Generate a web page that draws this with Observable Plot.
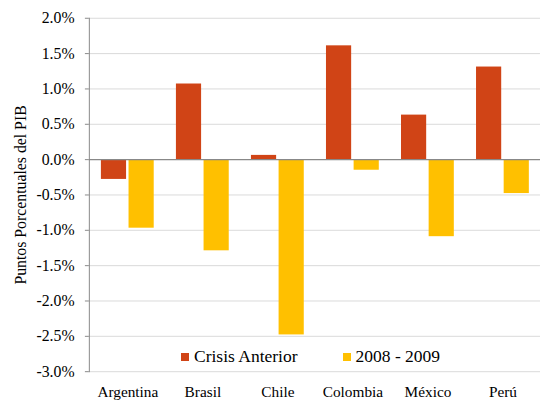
<!DOCTYPE html>
<html>
<head>
<meta charset="utf-8">
<script src="https://cdn.jsdelivr.net/npm/d3@7"></script>
<script src="https://cdn.jsdelivr.net/npm/@observablehq/plot@0.6"></script>
<style>
  html, body { margin: 0; padding: 0; background: #fff; overflow: hidden; width: 540px; height: 406px; }
  #wrap { position: relative; width: 540px; height: 406px; font-family: "Times New Roman", "Liberation Serif", Tinos, Times, serif; }
  #wrap svg, #wrap svg text { font-family: "Times New Roman", "Liberation Serif", Tinos, Times, serif !important; }
  #legend { position: absolute; top: 346px; left: 181px; font-size: 17.5px; color: #000; display: flex; align-items: center; white-space: nowrap; }
  #legend .sw { display: inline-block; width: 8px; height: 8px; margin-right: 5px; }
  #legend .item { display: flex; align-items: center; margin-right: 45px; }
</style>
</head>
<body>
<div id="wrap"></div>
<script>
const categories = ["Argentina", "Brasil", "Chile", "Colombia", "México", "Perú"];
const seriesNames = ["Crisis Anterior", "2008 - 2009"];
const crisisAnterior = [-0.28, 1.07, 0.06, 1.61, 0.63, 1.31];
const crisis2008 = [-0.97, -1.29, -2.48, -0.15, -1.09, -0.48];
const yTicks = [2.0, 1.5, 1.0, 0.5, 0.0, -0.5, -1.0, -1.5, -2.0, -2.5, -3.0];
const colors = ["#D04416", "#FFC000"];

const data = [];
categories.forEach((c, i) => {
  data.push({cat: c, series: seriesNames[0], v: crisisAnterior[i]});
  data.push({cat: c, series: seriesNames[1], v: crisis2008[i]});
});

const fmt = d => d.toFixed(1) + "%";
const FONT = "'Times New Roman', 'Liberation Serif', Tinos, Times, serif";

const chart = Plot.plot({
  width: 547,
  height: 406,
  marginLeft: 90,
  marginRight: 0,
  marginTop: 18,
  marginBottom: 30,
  style: {fontFamily: FONT, fontSize: "16px", background: "#fff", color: "#000"},
  x: {domain: categories, padding: 0, axis: null},
  y: {domain: [-3, 2], axis: null},
  color: {domain: seriesNames, range: colors},
  marks: [
    Plot.ruleY(yTicks.filter(d => d !== 0), {stroke: "#d9d9d9", strokeWidth: 1}),
    Plot.barY(data.filter(d => d.series === seriesNames[0]), {x: "cat", y: "v", fill: "series", insetLeft: 11.2, insetRight: 39.3}),
    Plot.barY(data.filter(d => d.series === seriesNames[1]), {x: "cat", y: "v", fill: "series", insetLeft: 39.2, insetRight: 11.3}),
    Plot.ruleY([0], {stroke: "#888", strokeWidth: 1.5}),
    Plot.frame({anchor: "left", stroke: "#888"}),
    Plot.axisY({ticks: yTicks, tickFormat: fmt, tickSize: 4, tickPadding: 11, stroke: "#888", fontSize: 16, fontFamily: FONT, label: "Puntos Porcentuales del PIB", labelAnchor: "center", labelOffset: 76, labelArrow: "none"}),
    Plot.axisX({tickSize: 0, tickPadding: 15, fontSize: 15.5, fontFamily: FONT, label: null})
  ]
});

const wrap = document.getElementById("wrap");
wrap.appendChild(chart);

const legend = document.createElement("div");
legend.id = "legend";
seriesNames.forEach((s, i) => {
  const item = document.createElement("span");
  item.className = "item";
  const sw = document.createElement("span");
  sw.className = "sw";
  sw.style.background = colors[i];
  item.appendChild(sw);
  item.appendChild(document.createTextNode(s));
  legend.appendChild(item);
});
wrap.appendChild(legend);
</script>
</body>
</html>
